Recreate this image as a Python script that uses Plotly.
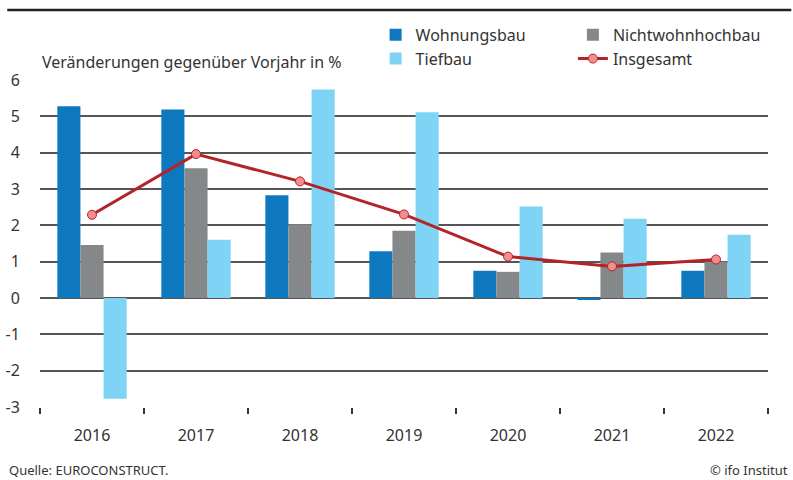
import plotly.graph_objects as go

years = ["2016", "2017", "2018", "2019", "2020", "2021", "2022"]
wohnungsbau = [5.28, 5.19, 2.83, 1.29, 0.75, -0.05, 0.75]
nichtwohnhochbau = [1.46, 3.57, 2.03, 1.85, 0.72, 1.25, 1.00]
tiefbau = [-2.77, 1.60, 5.74, 5.11, 2.52, 2.18, 1.74]
insgesamt = [2.29, 3.96, 3.21, 2.30, 1.14, 0.87, 1.06]
yticks = [-3, -2, -1, 0, 1, 2, 3, 4, 5, 6]

FONT = "Noto Sans"
TXT = "#333333"

fig = go.Figure()
fig.add_trace(go.Bar(x=years, y=wohnungsbau, name="Wohnungsbau",
                     marker=dict(color="#0E78BE", line=dict(width=0)), legend="legend"))
fig.add_trace(go.Bar(x=years, y=nichtwohnhochbau, name="Nichtwohnhochbau",
                     marker=dict(color="#858889", line=dict(width=0)), legend="legend2"))
fig.add_trace(go.Bar(x=years, y=tiefbau, name="Tiefbau",
                     marker=dict(color="#7FD3F5", line=dict(width=0)), legend="legend"))
fig.add_trace(go.Scatter(x=years, y=insgesamt, name="Insgesamt", mode="lines+markers",
                         line=dict(color="#B52228", width=3),
                         marker=dict(size=9, color="#F28E8E", line=dict(color="#B52228", width=1)),
                         legend="legend2"))

fig.update_layout(
    width=793, height=480,
    margin=dict(l=40, r=25, t=80, b=73, autoexpand=False),
    paper_bgcolor="white", plot_bgcolor="white",
    barmode="group", bargap=0.333, bargroupgap=0,
    font=dict(family=FONT, size=16, color=TXT),
    legend=dict(x=0.461, y=1.19, xanchor="left", yanchor="top",
                orientation="v", font=dict(size=16, color=TXT), bgcolor="rgba(0,0,0,0)"),
    legend2=dict(x=0.732, y=1.19, xanchor="left", yanchor="top",
                 orientation="v", font=dict(size=16, color=TXT), bgcolor="rgba(0,0,0,0)"),
    xaxis=dict(type="category", tickson="boundaries", ticks="outside", ticklen=6,
               tickcolor=TXT, tickwidth=1.5, showgrid=False, showline=False,
               tickfont=dict(size=16, color=TXT), zeroline=False, tickangle=0,
               ticklabelstandoff=17, automargin=False),
    yaxis=dict(range=[-3, 6], tickvals=yticks, ticktext=[str(v) for v in yticks],
               showgrid=True, gridcolor="#555555", gridwidth=1.5, zeroline=False,
               showline=False, ticks="outside", ticklen=16, tickcolor="rgba(0,0,0,0)",
               tickfont=dict(size=16, color=TXT), automargin=False),
    shapes=[dict(type="line", xref="paper", yref="paper", x0=-0.045, x1=1.032, y0=1.214, y1=1.214,
                 line=dict(color="#222222", width=2.5))],
    annotations=[
        dict(text="Veränderungen gegenüber Vorjahr in %", xref="paper", yref="paper",
             x=0.0, y=1.016, xanchor="left", yanchor="bottom", showarrow=False,
             font=dict(size=16, color=TXT)),
        dict(text="Quelle: EUROCONSTRUCT.", xref="paper", yref="paper", x=-0.046, y=-0.193,
             xanchor="left", yanchor="middle", showarrow=False, font=dict(size=13, color=TXT)),
        dict(text="© ifo Institut", xref="paper", yref="paper", x=1.03, y=-0.193,
             xanchor="right", yanchor="middle", showarrow=False, font=dict(size=13, color=TXT)),
    ],
)
fig.write_html("out.html", config={"displayModeBar": False},
               post_script="document.body.style.margin='0';")
